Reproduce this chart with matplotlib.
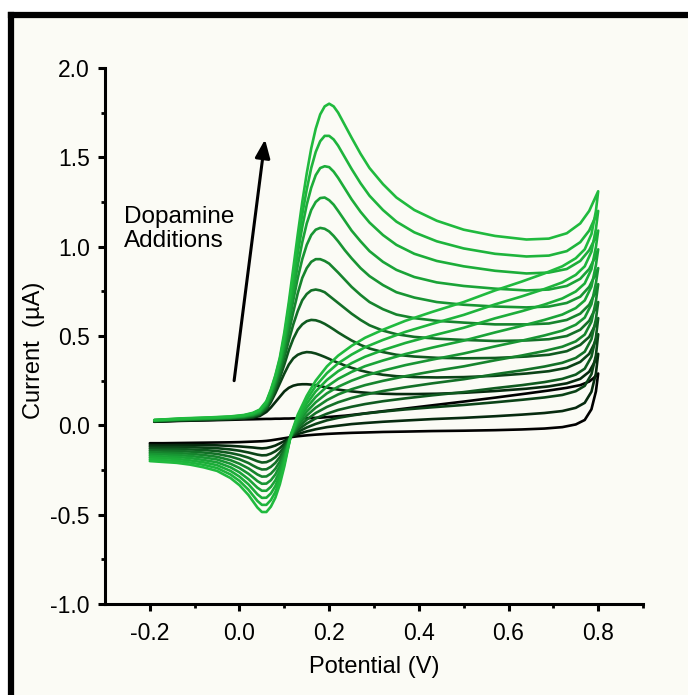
import matplotlib
matplotlib.use("Agg")
import matplotlib.pyplot as plt
from matplotlib.lines import Line2D
from matplotlib.patches import Rectangle

plt.rcParams['axes.unicode_minus'] = False
plt.rcParams['font.family'] = ['Liberation Sans', 'DejaVu Sans']

# potentials (V) of the read-off points, forward (anodic) and reverse scans
E_fwd = [-0.19, -0.13, -0.07, -0.02, 0.01, 0.03, 0.045, 0.06, 0.07, 0.08, 0.09, 0.10, 0.11, 0.12,
         0.13, 0.14, 0.15, 0.16, 0.17, 0.18, 0.19, 0.20, 0.21, 0.22, 0.235, 0.25, 0.27, 0.29,
         0.32, 0.35, 0.39, 0.44, 0.50, 0.57, 0.64, 0.69, 0.73, 0.76, 0.78, 0.79, 0.80]
E_rev = [0.80, 0.795, 0.785, 0.77, 0.75, 0.72, 0.68, 0.63, 0.57, 0.50, 0.43, 0.37, 0.32, 0.28,
         0.25, 0.22, 0.195, 0.17, 0.15, 0.13, 0.115, 0.10, 0.09, 0.08, 0.07, 0.06, 0.05, 0.04,
         0.03, 0.02, 0.00, -0.02, -0.05, -0.08, -0.11, -0.14, -0.17, -0.20]

# current (uA), one row per dopamine addition (row 0 = blank)
I_fwd = [
    [0.020, 0.025, 0.028, 0.031, 0.033, 0.034, 0.035, 0.036, 0.036, 0.037, 0.037, 0.038, 0.038, 0.039,
     0.039, 0.040, 0.040, 0.041, 0.042, 0.043, 0.045, 0.047, 0.049, 0.051, 0.054, 0.058, 0.064, 0.070,
     0.079, 0.088, 0.100, 0.115, 0.133, 0.155, 0.178, 0.195, 0.210, 0.225, 0.245, 0.265, 0.290],
    [0.021, 0.027, 0.030, 0.034, 0.038, 0.043, 0.052, 0.075, 0.100, 0.130, 0.160, 0.190, 0.210, 0.222,
     0.228, 0.230, 0.230, 0.228, 0.224, 0.219, 0.214, 0.209, 0.204, 0.200, 0.195, 0.190, 0.185, 0.181,
     0.177, 0.175, 0.175, 0.177, 0.182, 0.192, 0.205, 0.218, 0.235, 0.260, 0.300, 0.345, 0.400],
    [0.022, 0.028, 0.032, 0.036, 0.040, 0.046, 0.058, 0.090, 0.130, 0.180, 0.235, 0.290, 0.340, 0.375,
     0.395, 0.405, 0.410, 0.408, 0.402, 0.393, 0.383, 0.372, 0.360, 0.350, 0.335, 0.322, 0.307, 0.295,
     0.283, 0.275, 0.270, 0.268, 0.270, 0.277, 0.290, 0.303, 0.322, 0.355, 0.400, 0.450, 0.510],
    [0.024, 0.030, 0.034, 0.038, 0.042, 0.049, 0.062, 0.095, 0.140, 0.200, 0.265, 0.340, 0.420, 0.485,
     0.535, 0.565, 0.583, 0.590, 0.588, 0.580, 0.568, 0.553, 0.537, 0.520, 0.497, 0.475, 0.450, 0.430,
     0.410, 0.395, 0.385, 0.378, 0.375, 0.377, 0.385, 0.395, 0.415, 0.450, 0.495, 0.545, 0.600],
    [0.025, 0.032, 0.036, 0.040, 0.045, 0.053, 0.066, 0.100, 0.150, 0.215, 0.290, 0.380, 0.475, 0.565,
     0.640, 0.700, 0.735, 0.755, 0.760, 0.755, 0.745, 0.725, 0.705, 0.685, 0.655, 0.625, 0.590, 0.560,
     0.530, 0.510, 0.495, 0.485, 0.478, 0.472, 0.475, 0.482, 0.500, 0.535, 0.585, 0.635, 0.690],
    [0.026, 0.033, 0.037, 0.042, 0.048, 0.056, 0.070, 0.110, 0.160, 0.230, 0.310, 0.410, 0.520, 0.635,
     0.740, 0.825, 0.880, 0.915, 0.930, 0.930, 0.920, 0.905, 0.880, 0.855, 0.815, 0.775, 0.730, 0.690,
     0.650, 0.620, 0.600, 0.585, 0.575, 0.565, 0.565, 0.570, 0.590, 0.625, 0.675, 0.725, 0.790],
    [0.027, 0.034, 0.038, 0.044, 0.050, 0.059, 0.074, 0.115, 0.170, 0.245, 0.330, 0.440, 0.565, 0.700,
     0.825, 0.930, 1.010, 1.065, 1.095, 1.105, 1.100, 1.085, 1.060, 1.030, 0.980, 0.935, 0.880, 0.835,
     0.785, 0.745, 0.715, 0.690, 0.675, 0.665, 0.660, 0.665, 0.685, 0.720, 0.775, 0.825, 0.880],
    [0.028, 0.035, 0.040, 0.045, 0.052, 0.062, 0.078, 0.120, 0.180, 0.255, 0.345, 0.460, 0.600, 0.750,
     0.895, 1.025, 1.130, 1.205, 1.250, 1.272, 1.275, 1.260, 1.235, 1.200, 1.145, 1.090, 1.030, 0.975,
     0.915, 0.870, 0.830, 0.800, 0.780, 0.765, 0.755, 0.760, 0.780, 0.820, 0.875, 0.925, 0.985],
    [0.029, 0.036, 0.041, 0.047, 0.054, 0.065, 0.082, 0.125, 0.190, 0.265, 0.360, 0.480, 0.635, 0.800,
     0.965, 1.110, 1.235, 1.330, 1.400, 1.440, 1.450, 1.445, 1.420, 1.385, 1.325, 1.265, 1.195, 1.135,
     1.065, 1.010, 0.960, 0.920, 0.890, 0.865, 0.850, 0.855, 0.875, 0.920, 0.980, 1.030, 1.090],
    [0.030, 0.037, 0.043, 0.048, 0.056, 0.068, 0.085, 0.130, 0.195, 0.275, 0.370, 0.500, 0.665, 0.845,
     1.020, 1.180, 1.320, 1.440, 1.530, 1.590, 1.620, 1.620, 1.600, 1.565, 1.500, 1.435, 1.355, 1.285,
     1.205, 1.140, 1.080, 1.030, 0.990, 0.960, 0.945, 0.950, 0.975, 1.025, 1.090, 1.145, 1.200],
    [0.030, 0.039, 0.044, 0.050, 0.058, 0.070, 0.088, 0.135, 0.200, 0.280, 0.380, 0.520, 0.690, 0.880,
     1.070, 1.250, 1.410, 1.550, 1.660, 1.740, 1.785, 1.800, 1.785, 1.750, 1.680, 1.610, 1.520, 1.440,
     1.350, 1.275, 1.205, 1.145, 1.095, 1.060, 1.040, 1.045, 1.075, 1.130, 1.200, 1.255, 1.310],
]

I_rev = [
    [0.290, 0.190, 0.090, 0.030, 0.005, -0.010, -0.018, -0.023, -0.027, -0.030, -0.032, -0.035, -0.037,
     -0.040, -0.042, -0.045, -0.048, -0.052, -0.056, -0.061, -0.066, -0.072, -0.076, -0.080, -0.084,
     -0.087, -0.089, -0.090, -0.091, -0.092, -0.094, -0.095, -0.096, -0.097, -0.098, -0.099, -0.100, -0.100],
    [0.400, 0.291, 0.188, 0.126, 0.098, 0.080, 0.069, 0.060, 0.051, 0.042, 0.035, 0.027, 0.020,
     0.013, 0.007, -0.002, -0.010, -0.022, -0.034, -0.049, -0.064, -0.088, -0.101, -0.113, -0.121,
     -0.127, -0.129, -0.127, -0.124, -0.122, -0.118, -0.115, -0.112, -0.111, -0.110, -0.110, -0.111, -0.110],
    [0.510, 0.392, 0.286, 0.221, 0.191, 0.170, 0.156, 0.143, 0.129, 0.114, 0.101, 0.089, 0.077,
     0.066, 0.055, 0.042, 0.028, 0.008, -0.012, -0.037, -0.063, -0.104, -0.127, -0.145, -0.158,
     -0.167, -0.168, -0.164, -0.158, -0.152, -0.142, -0.135, -0.128, -0.125, -0.122, -0.121, -0.121, -0.120],
    [0.600, 0.493, 0.384, 0.317, 0.284, 0.260, 0.242, 0.225, 0.208, 0.186, 0.168, 0.151, 0.135,
     0.119, 0.104, 0.086, 0.065, 0.039, 0.010, -0.025, -0.061, -0.119, -0.152, -0.178, -0.195,
     -0.206, -0.208, -0.201, -0.191, -0.181, -0.166, -0.155, -0.144, -0.138, -0.135, -0.132, -0.132, -0.130],
    [0.690, 0.594, 0.482, 0.412, 0.377, 0.350, 0.329, 0.308, 0.286, 0.258, 0.235, 0.213, 0.192,
     0.172, 0.153, 0.129, 0.103, 0.069, 0.032, -0.013, -0.060, -0.135, -0.178, -0.210, -0.232,
     -0.246, -0.247, -0.238, -0.225, -0.211, -0.190, -0.175, -0.160, -0.152, -0.147, -0.143, -0.142, -0.140],
    [0.790, 0.695, 0.580, 0.508, 0.470, 0.440, 0.416, 0.391, 0.364, 0.330, 0.302, 0.275, 0.249,
     0.225, 0.202, 0.173, 0.141, 0.099, 0.055, -0.001, -0.058, -0.151, -0.203, -0.243, -0.270,
     -0.286, -0.287, -0.275, -0.258, -0.241, -0.215, -0.195, -0.176, -0.166, -0.159, -0.155, -0.153, -0.150],
    [0.880, 0.796, 0.678, 0.603, 0.563, 0.530, 0.503, 0.474, 0.442, 0.402, 0.368, 0.337, 0.306,
     0.278, 0.250, 0.216, 0.179, 0.129, 0.077, 0.012, -0.056, -0.167, -0.228, -0.275, -0.307,
     -0.326, -0.327, -0.312, -0.291, -0.271, -0.239, -0.215, -0.191, -0.180, -0.171, -0.166, -0.163, -0.160],
    [0.985, 0.897, 0.776, 0.699, 0.656, 0.620, 0.590, 0.557, 0.520, 0.474, 0.435, 0.399, 0.363,
     0.331, 0.299, 0.260, 0.217, 0.159, 0.099, 0.024, -0.055, -0.183, -0.254, -0.308, -0.344,
     -0.366, -0.366, -0.349, -0.325, -0.301, -0.263, -0.235, -0.207, -0.194, -0.183, -0.177, -0.174, -0.170],
    [1.090, 0.998, 0.874, 0.794, 0.749, 0.710, 0.676, 0.639, 0.599, 0.546, 0.502, 0.461, 0.421,
     0.384, 0.348, 0.303, 0.254, 0.190, 0.121, 0.036, -0.053, -0.198, -0.279, -0.340, -0.381,
     -0.405, -0.406, -0.386, -0.358, -0.330, -0.287, -0.255, -0.223, -0.207, -0.196, -0.188, -0.184, -0.180],
    [1.200, 1.099, 0.972, 0.890, 0.842, 0.800, 0.763, 0.722, 0.677, 0.618, 0.568, 0.523, 0.478,
     0.437, 0.396, 0.347, 0.292, 0.220, 0.143, 0.048, -0.052, -0.214, -0.305, -0.373, -0.418,
     -0.445, -0.445, -0.423, -0.392, -0.360, -0.311, -0.275, -0.239, -0.221, -0.208, -0.199, -0.195, -0.190],
    [1.310, 1.200, 1.070, 0.985, 0.935, 0.890, 0.850, 0.805, 0.755, 0.690, 0.635, 0.585, 0.535,
     0.490, 0.445, 0.390, 0.330, 0.250, 0.165, 0.060, -0.050, -0.230, -0.330, -0.405, -0.455,
     -0.485, -0.485, -0.460, -0.425, -0.390, -0.335, -0.295, -0.255, -0.235, -0.220, -0.210, -0.205, -0.200],
]

colors = ['#000000', '#062a0e', '#0b4317', '#0f5a1f', '#137027', '#16842d', '#189533',
          '#1aa337', '#1cad39', '#1eb43c', '#20ba3e']

x_ticks = [-0.2, 0.0, 0.2, 0.4, 0.6, 0.8]
y_ticks = [-1.0, -0.5, 0.0, 0.5, 1.0, 1.5, 2.0]

fig = plt.figure(figsize=(6.88, 6.95), dpi=100, facecolor='white')

# cream panel with the thick black frame on top / left
fig.add_artist(Rectangle((0.016, 0.0), 0.984, 0.978, transform=fig.transFigure,
                         facecolor='#fbfbf5', edgecolor='none', zorder=0))
fig.add_artist(Line2D([0.016, 1.0], [0.978, 0.978], transform=fig.transFigure,
                      color='black', lw=4.5, solid_capstyle='projecting'))
fig.add_artist(Line2D([0.016, 0.016], [0.0, 0.978], transform=fig.transFigure,
                      color='black', lw=4.5, solid_capstyle='projecting'))

ax = fig.add_axes([0.1526, 0.1309, 0.782, 0.7713])
ax.patch.set_alpha(0)

for k in range(len(I_fwd)):
    ax.plot(E_fwd + E_rev, I_fwd[k] + I_rev[k], color=colors[k], lw=1.9,
            solid_joinstyle='round', solid_capstyle='round')

ax.set_xlim(-0.3, 0.9)
ax.set_ylim(-1.0, 2.0)
ax.set_xticks(x_ticks)
ax.set_xticks([-0.1, 0.1, 0.3, 0.5, 0.7, 0.9], minor=True)
ax.set_yticks(y_ticks)
ax.set_yticks([-0.75, -0.25, 0.25, 0.75, 1.25, 1.75], minor=True)
ax.set_xticklabels([f'{v:.1f}' for v in x_ticks])
ax.set_yticklabels([f'{v:.1f}' for v in y_ticks])

for s in ['top', 'right']:
    ax.spines[s].set_visible(False)
for s in ['left', 'bottom']:
    ax.spines[s].set_linewidth(2.2)
ax.tick_params(which='major', direction='out', length=5, width=2.2, labelsize=16.5)
ax.tick_params(which='minor', direction='out', length=3, width=2.0)
ax.tick_params(axis='x', which='major', pad=8)
ax.tick_params(axis='y', which='major', pad=6)

ax.set_xlabel('Potential (V)', fontsize=17, labelpad=8)
ax.set_ylabel('Current  (\u00b5A)', fontsize=17)
ax.yaxis.set_label_coords(-0.112, 0.474)

ax.annotate('', xy=(0.057, 1.60), xytext=(-0.012, 0.25),
            arrowprops=dict(arrowstyle='-|>,head_length=1.1,head_width=0.45',
                            color='black', lw=2.2, shrinkA=0, shrinkB=0))
ax.text(-0.258, 1.10, 'Dopamine\nAdditions', fontsize=17.5, ha='left', va='center',
        linespacing=1.1)

fig.savefig('out.png', dpi=100, facecolor=fig.get_facecolor())
